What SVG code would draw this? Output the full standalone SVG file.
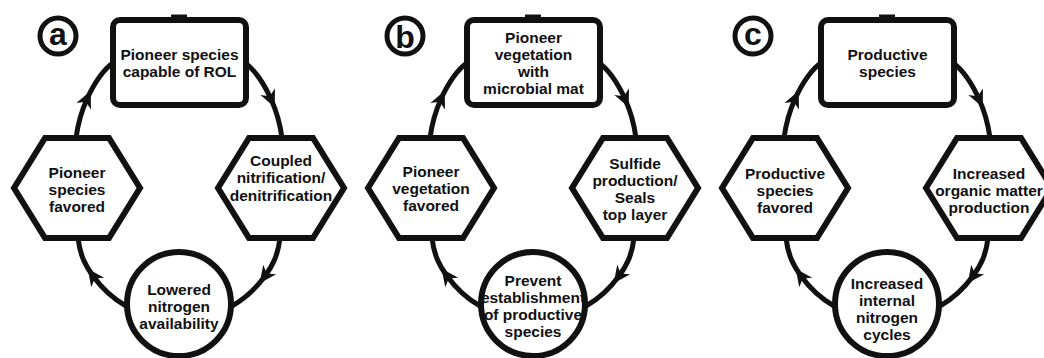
<svg xmlns="http://www.w3.org/2000/svg" width="1044" height="358" viewBox="0 0 1044 358">
<style>
.bg{fill:#fff}
.edge{fill:none;stroke:#111;stroke-width:5;marker-mid:url(#arr)}
.tick{fill:none;stroke:#111;stroke-width:3}
.node{fill:#fff;stroke:#111;stroke-width:6;stroke-linejoin:miter}
.lab{fill:#fff;stroke:#111;stroke-width:5}
text{font-family:"Liberation Sans",Arial,sans-serif;font-weight:bold;font-size:15.5px;fill:#111;text-anchor:middle}
.big{font-size:32px}
</style>
<defs>
<marker id="arr" viewBox="-12 -12 24 24" markerWidth="24" markerHeight="24" markerUnits="userSpaceOnUse" refX="0" refY="0" orient="auto">
<path d="M9,0 L-8,-8 L-3,0 L-8,8 Z" fill="#111"/>
</marker>
</defs>
<rect class="bg" x="0" y="0" width="1044" height="358"/>
<g id="connectors">
<path class="edge" d="M76,138 C78,123 82,110 87,99 C92,88 100,72 114,62"/>
<path class="edge" d="M244,62 C258,72 266,88 271,99 C276,110 280,123 282,138"/>
<path class="edge" d="M280,238 C278,255 273,265 265,276 C257,287 246,298 232,306"/>
<path class="edge" d="M126,306 C112,298 101,287 93,276 C85,265 80,255 78,238"/>
<path class="tick" d="M171,16 L187,16"/>
<path class="edge" d="M430,138 C432,123 436,110 441,99 C446,88 454,72 468,62"/>
<path class="edge" d="M598,62 C612,72 620,88 625,99 C630,110 634,123 636,138"/>
<path class="edge" d="M634,238 C632,255 627,265 619,276 C611,287 600,298 586,306"/>
<path class="edge" d="M480,306 C466,298 455,287 447,276 C439,265 434,255 432,238"/>
<path class="tick" d="M525,16 L541,16"/>
<path class="edge" d="M784,138 C786,123 790,110 795,99 C800,88 808,72 822,62"/>
<path class="edge" d="M952,62 C966,72 974,88 979,99 C984,110 988,123 990,138"/>
<path class="edge" d="M988,238 C986,255 981,265 973,276 C965,287 954,298 940,306"/>
<path class="edge" d="M834,306 C820,298 809,287 801,276 C793,265 788,255 786,238"/>
<path class="tick" d="M879,16 L895,16"/>
</g>
<g id="label-a"><circle class="lab" cx="58" cy="36" r="18"/><text class="big" x="58" y="44.5">a</text></g>
<g id="label-b"><circle class="lab" cx="405" cy="36" r="18"/><text class="big" x="405" y="47.5">b</text></g>
<g id="label-c"><circle class="lab" cx="753" cy="36" r="18"/><text class="big" x="753" y="44.5">c</text></g>

<g id="a-top"><rect class="node" x="113" y="20" width="133" height="85" rx="7"/>
<text x="179.5" y="59.5">Pioneer species</text><text x="179.5" y="76.5">capable of ROL</text></g>
<g id="a-right"><path class="node" d="M218,188 L249,138 L313,138 L344,188 L313,238 L249,238 Z"/>
<text x="281" y="165.5">Coupled</text><text x="281" y="182.5">nitrification/</text><text x="281" y="200.5">denitrification</text></g>
<g id="a-bottom"><circle class="node" cx="179" cy="304" r="52"/>
<text x="179" y="294.5">Lowered</text><text x="179" y="311.5">nitrogen</text><text x="179" y="328.5">availability</text></g>
<g id="a-left"><path class="node" d="M14,188 L45,138 L109,138 L140,188 L109,238 L45,238 Z"/>
<text x="77" y="177.5">Pioneer</text><text x="77" y="194.5">species</text><text x="77" y="211.5">favored</text></g>

<g id="b-top"><rect class="node" x="467" y="20" width="133" height="85" rx="7"/>
<text x="533.5" y="42.5">Pioneer</text><text x="533.5" y="59.5">vegetation</text><text x="533.5" y="76.5">with</text><text x="533.5" y="93.5">microbial mat</text></g>
<g id="b-right"><path class="node" d="M572,188 L603,138 L667,138 L698,188 L667,238 L603,238 Z"/>
<text x="635" y="168.5">Sulfide</text><text x="635" y="185.5">production/</text><text x="635" y="202.5">Seals</text><text x="635" y="219.5">top layer</text></g>
<g id="b-bottom"><circle class="node" cx="533" cy="304" r="52"/>
<text x="533" y="285.5">Prevent</text><text x="533" y="302.5">establishment</text><text x="533" y="319.5">of productive</text><text x="533" y="336.5">species</text></g>
<g id="b-left"><path class="node" d="M368,188 L399,138 L463,138 L494,188 L463,238 L399,238 Z"/>
<text x="431" y="176.5">Pioneer</text><text x="431" y="193.5">vegetation</text><text x="431" y="210.5">favored</text></g>

<g id="c-top"><rect class="node" x="821" y="20" width="133" height="85" rx="7"/>
<text x="887.5" y="59.5">Productive</text><text x="887.5" y="76.5">species</text></g>
<g id="c-right"><path class="node" d="M926,188 L957,138 L1021,138 L1052,188 L1021,238 L957,238 Z"/>
<text x="989" y="178.5">Increased</text><text x="989" y="195.5">organic matter</text><text x="989" y="212.5">production</text></g>
<g id="c-bottom"><circle class="node" cx="887" cy="304" r="52"/>
<text x="887" y="288.5">Increased</text><text x="887" y="305.5">internal</text><text x="887" y="322.5">nitrogen</text><text x="887" y="339.5">cycles</text></g>
<g id="c-left"><path class="node" d="M722,188 L753,138 L817,138 L848,188 L817,238 L753,238 Z"/>
<text x="785" y="178.5">Productive</text><text x="785" y="195.5">species</text><text x="785" y="212.5">favored</text></g>
</svg>
